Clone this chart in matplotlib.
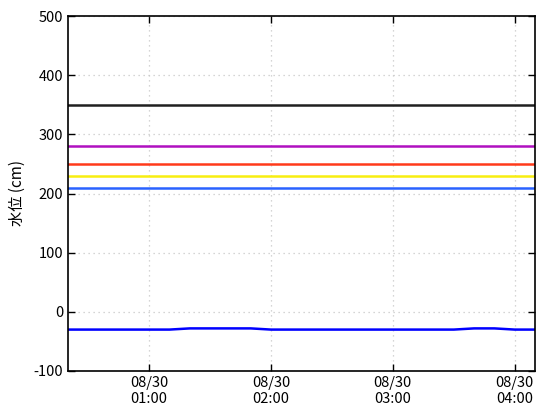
import matplotlib
matplotlib.use("Agg")
import matplotlib.pyplot as plt
import matplotlib.dates as mdates
import pandas as pd

plt.rcParams['font.family'] = ['Noto Sans CJK JP', 'DejaVu Sans']
plt.rcParams['axes.unicode_minus'] = False

times = pd.date_range("2024-08-30 00:20", "2024-08-30 04:10", freq="10min")
# 00:20 ... 04:10 every 10 minutes (24 values)
level = [-30, -30, -30, -30, -30, -30,   # 00:20-01:10
         -28, -28, -28, -28,             # 01:20-01:50
         -30, -30, -30, -30, -30, -30,   # 02:00-02:50
         -30, -30, -30, -30,             # 03:00-03:30
         -28, -28,                       # 03:40-03:50
         -30, -30]                       # 04:00-04:10
thresholds = [350, 280, 250, 230, 210]
th_colors = ['#202020', '#b010c0', '#ff3a1a', '#f8ee10', '#2a62ff']

fig = plt.figure(figsize=(5.6, 4.2), dpi=100)
ax = fig.add_axes([68/560, 49/420, 467/560, 355/420])
for v, c in zip(thresholds, th_colors):
    ax.axhline(v, color=c, lw=1.8)
ax.plot(times, level, color='#0000ff', lw=1.8)

ax.set_xlim(times[0], times[-1])
ax.set_ylim(-100, 500)
ax.set_yticks(range(-100, 501, 100))
ax.xaxis.set_major_locator(mdates.HourLocator())
ax.xaxis.set_major_formatter(mdates.DateFormatter("%m/%d\n%H:%M"))
ax.grid(True, color='#c8c8c8', linestyle=(0, (1, 3)), lw=0.9)
ax.tick_params(direction='in', top=True, right=True, length=5, labelsize=10.5, width=1)
for s in ax.spines.values():
    s.set_linewidth(1.2)
ax.set_ylabel("水位 (cm)", fontsize=11)
ax.yaxis.set_label_coords(-0.09, 0.5)
fig.savefig("out.png", dpi=100)
